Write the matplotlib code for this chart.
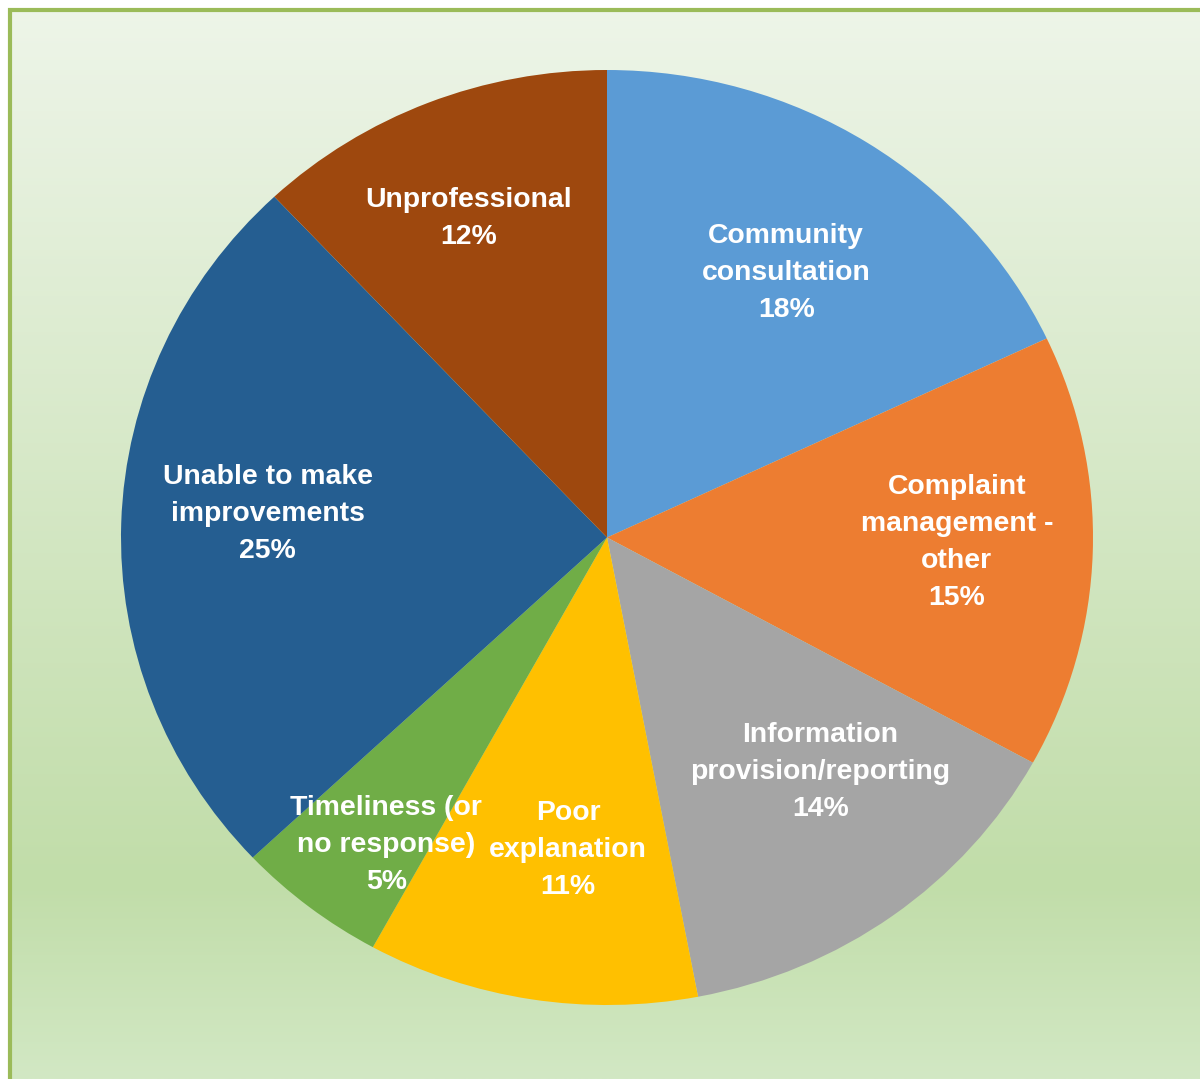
import numpy as np
import matplotlib
matplotlib.use("Agg")
import matplotlib.pyplot as plt
from matplotlib.patches import Rectangle

# data (percent of complaints)
categories = ["Community\nconsultation", "Complaint\nmanagement -\nother",
              "Information\nprovision/reporting", "Poor\nexplanation",
              "Timeliness (or\nno response)", "Unable to make\nimprovements",
              "Unprofessional"]
values = [18, 15, 14, 11, 5, 25, 12]
colors = ["#5B9BD5", "#ED7D31", "#A5A5A5", "#FFC000", "#70AD47", "#255E91", "#9E480E"]

# label placement (radius, angle offset from slice middle in degrees)
label_r = [0.675, 0.72, 0.666, 0.673, 0.80, 0.70, 0.74]
label_off = [-0.7, 0.9, 5.2, 2.2, 3.2, -2.4, 1.1]

W, H = 1200, 1079
fig = plt.figure(figsize=(W / 100, H / 100), dpi=100)
fig.patch.set_facecolor("white")

# gradient background
bg = fig.add_axes([0, 0, 1, 1])
bg.set_axis_off()
top = np.array([238, 245, 233]) / 255
mid = np.array([193, 221, 169]) / 255
bot = np.array([210, 232, 196]) / 255
t = np.linspace(0, 1, 400)[:, None]
grad = np.where(t < 0.82, top + (mid - top) * (t / 0.82),
                mid + (bot - mid) * ((t - 0.82) / 0.18))
img = np.repeat(grad[:, None, :], 2, axis=1)
bg.imshow(img, aspect="auto", extent=[0, 1, 0, 1], origin="upper")
bg.set_xlim(0, 1)
bg.set_ylim(0, 1)
# white margin + green frame
bg.add_patch(Rectangle((0, 1 - 8 / H), 1, 8 / H, color="white", lw=0))
bg.add_patch(Rectangle((0, 0), 8 / W, 1, color="white", lw=0))
bg.add_patch(Rectangle((9.5 / W, -0.05), 1.1, 1 - 9.5 / H + 0.05,
                       fill=False, ec="#9BBB59", lw=3))

ax = fig.add_axes([121 / W, 74 / H, 972 / W, 935 / H])
wedges, _ = ax.pie(values, colors=colors, startangle=90, counterclock=False,
                   wedgeprops=dict(linewidth=0))
ax.set_aspect("auto")
ax.set_xlim(-1, 1)
ax.set_ylim(-1, 1)
ax.set_axis_off()

for i, w in enumerate(wedges):
    ang = np.deg2rad((w.theta1 + w.theta2) / 2 + label_off[i])
    x = label_r[i] * np.cos(ang)
    y = label_r[i] * np.sin(ang)
    ax.text(x, y, f"{categories[i]}\n{values[i]}%", ha="center", va="center",
            color="white", fontsize=20.4, fontweight="bold",
            family="Liberation Sans", linespacing=1.55)

fig.savefig("out.png", dpi=100)
